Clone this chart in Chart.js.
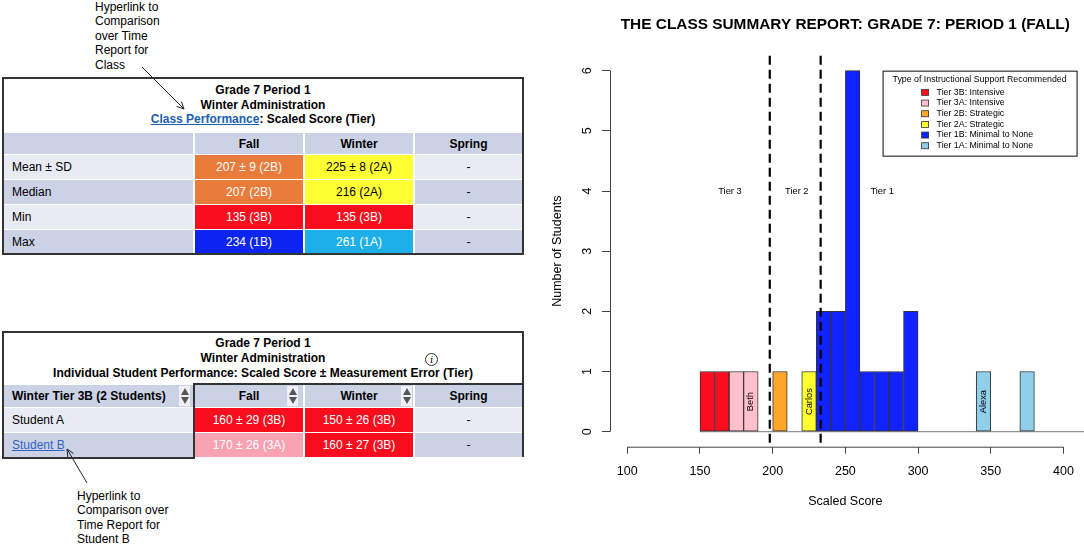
<!DOCTYPE html>
<html>
<head>
<meta charset="utf-8">
<title>Class Summary Report</title>
<script src="https://cdn.jsdelivr.net/npm/chart.js@4.4.0/dist/chart.umd.min.js"></script>
<style>
  body { margin: 0; width: 1084px; height: 545px; overflow: hidden; background: #fff; position: relative;
         font-family: Arial, "Liberation Sans", Helvetica, sans-serif; color: #000; }
  .note { position: absolute; font-size: 12px; line-height: 14.4px; white-space: nowrap; }
  .box { position: absolute; left: 2px; width: 518px; border: 2px solid #333; background: #fff; }
  .ttl { text-align: center; font-weight: bold; font-size: 12px; box-sizing: border-box; }
  .ttl a { color: #1a5fb4; text-decoration: underline; }
  .grid { display: grid; grid-template-columns: 189px 108px 108px 107px; column-gap: 2px; row-gap: 1px; }
  .grid > div { display: flex; align-items: center; justify-content: center; font-size: 12px; position: relative; }
  .grid > div.lbl { justify-content: flex-start; padding-left: 8px; }
  .hd { background: #ccd2e6; font-weight: bold; }
  .lt { background: #e8eaf4; }
  .dk { background: #ccd2e6; }
  .or { background: #e97b3b; color: #fff; }
  .ye { background: #ffff33; }
  .rd { background: #fa0e1e; color: #fff; }
  .pk { background: #f8a2b3; color: #fff; }
  .bl { background: #0b24ef; color: #fff; }
  .sb { background: #1cafe8; color: #fff; }
  .sort { position: absolute; right: 3px; top: 1px; width: 11px; height: 20px; background: #eef0f6; }
  .sort i { position: absolute; left: 1.5px; width: 0; height: 0; border-left: 4px solid transparent; border-right: 4px solid transparent; }
  .sort .up { top: 2px; border-bottom: 7px solid #555; }
  .sort .dn { top: 11px; border-top: 7px solid #555; }
  .dark { position: absolute; background: #333; }
  #chartWrap { position: absolute; left: 540px; top: 0; width: 544px; height: 545px; }
</style>
</head>
<body>

<div class="note" style="left:95px; top:0px;">Hyperlink to<br>Comparison<br>over Time<br>Report for<br>Class</div>

<div class="box" style="top:77px; height:174px;">
  <div class="ttl" style="height:54px; padding-top:4px; line-height:14.5px;">
    <div>Grade 7 Period 1</div>
    <div>Winter Administration</div>
    <div><a>Class Performance</a>: Scaled Score (Tier)</div>
  </div>
  <div class="grid" style="grid-template-rows: 21px 24px 24px 24px 23px;">
    <div class="hd"></div><div class="hd">Fall</div><div class="hd">Winter</div><div class="hd">Spring</div>
    <div class="lt lbl">Mean ± SD</div><div class="or">207 ± 9 (2B)</div><div class="ye">225 ± 8 (2A)</div><div class="lt">-</div>
    <div class="dk lbl">Median</div><div class="or">207 (2B)</div><div class="ye">216 (2A)</div><div class="dk">-</div>
    <div class="lt lbl">Min</div><div class="rd">135 (3B)</div><div class="rd">135 (3B)</div><div class="lt">-</div>
    <div class="dk lbl">Max</div><div class="bl">234 (1B)</div><div class="sb">261 (1A)</div><div class="dk">-</div>
  </div>
</div>

<div class="box" style="top:331px; height:124px; border-bottom:none;">
  <div class="ttl" style="height:52px; padding-top:3px; line-height:14.8px;">
    <div>Grade 7 Period 1</div>
    <div>Winter Administration</div>
    <div>Individual Student Performance: Scaled Score ± Measurement Error (Tier)</div>
  </div>
  <div class="grid" style="grid-template-rows: 22px 24px 24px;">
    <div class="hd lbl">Winter Tier 3B (2 Students)<span class="sort"><i class="up"></i><i class="dn"></i></span></div>
    <div class="hd">Fall<span class="sort" style="right:5px"><i class="up"></i><i class="dn"></i></span></div>
    <div class="hd">Winter<span class="sort" style="right:1px"><i class="up"></i><i class="dn"></i></span></div>
    <div class="hd">Spring</div>
    <div class="lt lbl">Student A</div><div class="rd">160 ± 29 (3B)</div><div class="rd">150 ± 26 (3B)</div><div class="lt">-</div>
    <div class="dk lbl"><a style="color:#2f64c0; text-decoration:underline;">Student B</a></div><div class="pk">170 ± 26 (3A)</div><div class="rd">160 ± 27 (3B)</div><div class="dk">-</div>
  </div>
  <div class="dark" style="left:189px; top:50px; width:331px; height:2px;"></div>
  <div class="dark" style="left:189px; top:50px; width:2px; height:76px;"></div>
  <div class="dark" style="left:-2px; top:124px; width:193px; height:2px;"></div>
  <div style="position:absolute; left:421px; top:20px; width:11px; height:11px; border:1px solid #333; border-radius:50%;
              font: italic 10px 'DejaVu Serif', serif; text-align:center; line-height:11px;">i</div>
</div>

<div class="note" style="left:77px; top:489px;">Hyperlink to<br>Comparison over<br>Time Report for<br>Student B</div>

<svg style="position:absolute; left:0; top:0;" width="540" height="545">
  <g stroke="#222" stroke-width="1" fill="none">
    <line x1="142" y1="67" x2="184" y2="109"/>
    <polyline points="176.5,106.3 184,109 181.3,101.5"/>
    <line x1="87" y1="483" x2="67" y2="449"/>
    <polyline points="73.6,453.5 67,449 67.8,457"/>
  </g>
</svg>

<div id="chartWrap"><canvas id="hist"></canvas></div>

<script>
// histogram bins (10-point wide), labelled by their centre
const binMids = [155, 165, 175, 185, 195, 205, 215, 225, 235, 245, 255, 265,
                 275, 285, 295, 305, 315, 325, 335, 345, 355, 365, 375];
const tier3B = [1, 1, 0, 0, 0, 0, 0, 0, 0, 0, 0, 0, 0, 0, 0, 0, 0, 0, 0, 0, 0, 0, 0];
const tier3A = [0, 0, 1, 1, 0, 0, 0, 0, 0, 0, 0, 0, 0, 0, 0, 0, 0, 0, 0, 0, 0, 0, 0];
const tier2B = [0, 0, 0, 0, 0, 1, 0, 0, 0, 0, 0, 0, 0, 0, 0, 0, 0, 0, 0, 0, 0, 0, 0];
const tier2A = [0, 0, 0, 0, 0, 0, 0, 1, 0, 0, 0, 0, 0, 0, 0, 0, 0, 0, 0, 0, 0, 0, 0];
const tier1B = [0, 0, 0, 0, 0, 0, 0, 0, 2, 2, 6, 1, 1, 1, 2, 0, 0, 0, 0, 0, 0, 0, 0];
const tier1A = [0, 0, 0, 0, 0, 0, 0, 0, 0, 0, 0, 0, 0, 0, 0, 0, 0, 0, 0, 1, 0, 0, 1];

const tierLabels = ['Tier 3B: Intensive', 'Tier 3A: Intensive', 'Tier 2B: Strategic',
                    'Tier 2A: Strategic', 'Tier 1B: Minimal to None', 'Tier 1A: Minimal to None'];
const tierColors = ['#fd0c1f', '#ffc0cb', '#ffa62b', '#ffff30', '#0f22ff', '#8fcfea'];

const baselineRange = [150, 430];
const cutScores = [198, 233];
const zoneNames = ['Tier 3', 'Tier 2', 'Tier 1'];
const zoneX = [170.6, 216.6, 275.3];
const zoneY = 4;
const studentNames = ['Beth', 'Carlos', 'Alexa'];
const studentX = [185, 225, 345];
const studentY = 0.5;

const xTicks = [100, 150, 200, 250, 300, 350, 400];
const yTicks = [0, 1, 2, 3, 4, 5, 6];

const FONT = 'Arial, "Liberation Sans", Helvetica, sans-serif';
Chart.defaults.font.family = FONT;
Chart.defaults.color = '#000';

function toPoints(counts) {
    return binMids.map((x, i) => ({ x: x, y: counts[i] })).filter(p => p.y > 0);
}

const tierSeries = [tier3B, tier3A, tier2B, tier2A, tier1B, tier1A];
const barSets = tierSeries.map((counts, i) => ({
    type: 'bar',
    label: tierLabels[i],
    data: toPoints(counts),
    backgroundColor: tierColors[i],
    borderColor: '#333',
    borderWidth: 1,
    borderSkipped: false,
    grouped: false,
    barPercentage: 1,
    categoryPercentage: 1,
    order: 1
}));

const baseline = {
    type: 'line',
    label: 'baseline',
    data: baselineRange.map(x => ({ x: x, y: 0 })),
    borderColor: '#777',
    borderWidth: 1,
    pointRadius: 0,
    clip: false,
    order: 5
};

// R-style detached axes, cut lines and text labels
const rDecor = {
    id: 'rDecor',
    afterDatasetsDraw(chart) {
        const { ctx, chartArea } = chart;
        const xs = chart.scales.x, ys = chart.scales.y;
        ctx.save();
        ctx.strokeStyle = '#444';
        ctx.lineWidth = 1;
        ctx.beginPath();
        ctx.moveTo(xs.getPixelForValue(xTicks[0]), chartArea.bottom + 0.5);
        ctx.lineTo(xs.getPixelForValue(xTicks[xTicks.length - 1]), chartArea.bottom + 0.5);
        ctx.moveTo(chartArea.left + 0.5, ys.getPixelForValue(yTicks[0]));
        ctx.lineTo(chartArea.left + 0.5, ys.getPixelForValue(yTicks[yTicks.length - 1]));
        ctx.stroke();

        // y tick labels, rotated like base R
        ctx.font = '12.5px ' + FONT;
        ctx.fillStyle = '#000';
        ctx.textAlign = 'center';
        ctx.textBaseline = 'middle';
        yTicks.forEach(v => {
            ctx.save();
            ctx.translate(chartArea.left - 22, ys.getPixelForValue(v));
            ctx.rotate(-Math.PI / 2);
            ctx.fillText(String(v), 0, 0);
            ctx.restore();
        });

        // cut score lines
        ctx.strokeStyle = '#000';
        ctx.lineWidth = 2.2;
        ctx.setLineDash([9, 5]);
        cutScores.forEach(c => {
            const px = xs.getPixelForValue(c);
            ctx.beginPath();
            ctx.moveTo(px, chartArea.top);
            ctx.lineTo(px, chartArea.bottom);
            ctx.stroke();
        });
        ctx.setLineDash([]);

        ctx.font = '9.3px ' + FONT;
        zoneNames.forEach((t, i) => {
            ctx.fillText(t, xs.getPixelForValue(zoneX[i]), ys.getPixelForValue(zoneY));
        });
        studentNames.forEach((t, i) => {
            ctx.save();
            ctx.translate(xs.getPixelForValue(studentX[i]), ys.getPixelForValue(studentY));
            ctx.rotate(-Math.PI / 2);
            ctx.fillText(t, 0, 0);
            ctx.restore();
        });
        ctx.restore();
    }
};

const boxLegend = {
    id: 'boxLegend',
    afterDraw(chart) {
        const { ctx, chartArea } = chart;
        const left = chartArea.right - 198, top = chartArea.top + 15;
        const w = 194, h = 85;
        ctx.save();
        ctx.fillStyle = '#fff';
        ctx.fillRect(left, top, w, h);
        ctx.strokeStyle = '#333';
        ctx.lineWidth = 1.2;
        ctx.strokeRect(left + 0.5, top + 0.5, w, h);
        ctx.fillStyle = '#000';
        ctx.font = '8.8px ' + FONT;
        ctx.textBaseline = 'middle';
        ctx.textAlign = 'center';
        ctx.fillText('Type of Instructional Support Recommended', left + w / 2, top + 8.5);
        ctx.textAlign = 'left';
        chart.data.datasets.filter(d => d.type === 'bar').forEach((d, i) => {
            const cy = top + 21.7 + i * 10.67;
            ctx.fillStyle = d.backgroundColor;
            ctx.fillRect(left + 39, cy - 3, 7, 6);
            ctx.strokeStyle = '#333';
            ctx.lineWidth = 0.8;
            ctx.strokeRect(left + 39, cy - 3, 7, 6);
            ctx.fillStyle = '#000';
            ctx.fillText(d.label, left + 54, cy);
        });
        ctx.restore();
    }
};

new Chart(document.getElementById('hist'), {
    data: { datasets: [baseline].concat(barSets) },
    options: {
        responsive: true,
        maintainAspectRatio: false,
        animation: false,
        layout: { padding: { top: 0, right: 3, bottom: 0, left: 0 } },
        plugins: {
            legend: { display: false },
            tooltip: { enabled: false },
            title: {
                display: true,
                fullSize: false,
                text: 'THE CLASS SUMMARY REPORT: GRADE 7: PERIOD 1 (FALL)',
                font: { size: 15.4, weight: 'bold' },
                color: '#000',
                padding: { top: 15.8, bottom: 21.4 }
            }
        },
        scales: {
            x: {
                type: 'linear',
                offset: false,
                min: 88.1,
                max: 411.8,
                afterBuildTicks: s => { s.ticks = xTicks.map(v => ({ value: v })); },
                afterFit: s => { s.height = 98.3; },
                ticks: { autoSkip: false, maxRotation: 0, padding: 10, font: { size: 12.5 }, color: '#000' },
                grid: { offset: false, drawOnChartArea: false, drawTicks: true, tickLength: 7, color: '#444' },
                border: { display: false },
                title: { display: true, text: 'Scaled Score', font: { size: 12.5 }, color: '#000',
                         padding: { top: 0, bottom: 35.5 } }
            },
            y: {
                type: 'linear',
                min: -0.249,
                max: 6.249,
                afterBuildTicks: s => { s.ticks = yTicks.map(v => ({ value: v })); },
                afterFit: s => { s.width = 70; },
                ticks: { display: false },
                grid: { drawOnChartArea: false, drawTicks: true, tickLength: 8, color: '#444' },
                border: { display: false },
                title: { display: true, text: 'Number of Students', font: { size: 12.5 }, color: '#000',
                         padding: { top: 10, bottom: 0 } }
            }
        }
    },
    plugins: [rDecor, boxLegend]
});
</script>
</body>
</html>
